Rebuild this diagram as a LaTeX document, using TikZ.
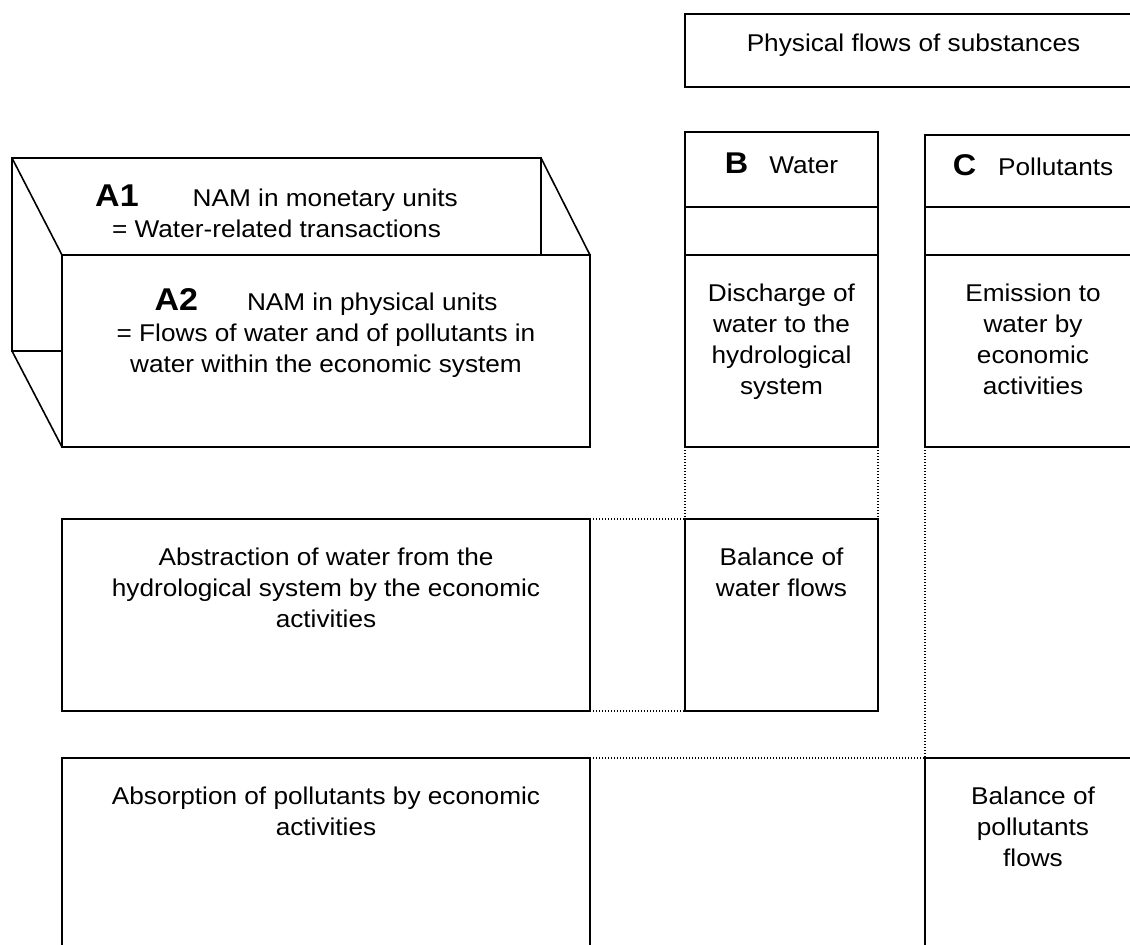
\documentclass[tikz,border=0pt]{standalone}
\usepackage{fontspec}
\setmainfont{Liberation Sans}[FakeStretch=1.08]
\newcommand\tstrut{\rule{0pt}{25pt}}
\newcommand\bigA[1]{{\fontsize{31.5}{31}\selectfont\bfseries #1}}
\newcommand\bigB[1]{{\fontsize{30}{31}\selectfont\bfseries #1}}
\begin{document}
\begin{tikzpicture}[x=1pt,y=-1pt,
  box/.style={draw, line width=1.6pt, inner sep=0pt, outer sep=0pt, anchor=north west, fill=white},
  txt/.style={font=\fontsize{24.26}{31}\selectfont, align=center, inner sep=0pt, outer sep=0pt, anchor=north},
  dotline/.style={line width=1.2pt, dash pattern=on 1.2pt off 1.8pt},
  edge3d/.style={line width=1.6pt}]
\useasboundingbox (0,0) rectangle (1130,945);
\clip (0,0) rectangle (1130,945);
\fill[white] (0,0) rectangle (1130,945);

% 3D box A1 / A2
\node[box, minimum width=529pt, minimum height=193pt] (A1) at (12,158) {};
\node[box, minimum width=528pt, minimum height=192pt] (A2) at (62,255) {};
\draw[edge3d] (A1.north west) -- (A2.north west);
\draw[edge3d] (A1.north east) -- (A2.north east);
\draw[edge3d] (A1.south west) -- (A2.south west);
\node[box, minimum width=528pt, minimum height=192pt] (A2f) at (62,255) {};
\draw[edge3d] (A1.north east) -- (A1.north east |- A2f.north);
\node[txt] (A1t) at ([yshift=-23pt]A1.north) {\tstrut\bigA{A1}\hspace{54pt}NAM in monetary units\\= Water-related transactions};
\node[txt] (A2t) at ([yshift=-30pt]A2f.north) {\tstrut\bigA{A2}\hspace{49pt}NAM in physical units\\= Flows of water and of pollutants in\\water within the economic system};

% Physical flows header
\node[box, minimum width=457pt, minimum height=73pt] (phys) at (685,14) {};
\node[txt] (physt) at ([yshift=-12pt]phys.north) {\tstrut Physical flows of substances};

% Column B
\node[box, minimum width=193pt, minimum height=75pt] (Bhead) at (685,132) {};
\node[box, minimum width=193pt, minimum height=48pt] (Bmid) at (685,207) {};
\node[box, minimum width=193pt, minimum height=192pt] (disc) at (685,255) {};
\node[txt] (Bheadt) at ([yshift=-16pt]Bhead.north) {\tstrut\bigB{B}\hspace{21pt}Water};
\node[txt] (disct) at ([yshift=-21pt]disc.north) {\tstrut Discharge of\\water to the\\hydrological\\system};

% Column C
\node[box, minimum width=216pt, minimum height=72pt] (Chead) at (925,135) {};
\node[box, minimum width=216pt, minimum height=48pt] (Cmid) at (925,207) {};
\node[box, minimum width=216pt, minimum height=192pt] (emis) at (925,255) {};
\node[txt] (Cheadt) at ([yshift=-15pt]Chead.north) {\tstrut\bigB{C}\hspace{22pt}Pollutants};
\node[txt] (emist) at ([yshift=-21pt]emis.north) {\tstrut Emission to\\water by\\economic\\activities};

% Middle row
\node[box, minimum width=528pt, minimum height=192pt] (abstr) at (62,519) {};
\node[txt] (abstrt) at ([yshift=-21pt]abstr.north) {\tstrut Abstraction of water from the\\hydrological system by the economic\\activities};
\node[box, minimum width=193pt, minimum height=192pt] (bbal) at (685,519) {};
\node[txt] (bbalt) at ([yshift=-21pt]bbal.north) {\tstrut Balance of\\water flows};

% Bottom row
\node[box, minimum width=528pt, minimum height=192pt] (absorp) at (62,758) {};
\node[txt] (absorpt) at ([yshift=-21pt]absorp.north) {\tstrut Absorption of pollutants by economic\\activities};
\node[box, minimum width=216pt, minimum height=192pt] (cbal) at (925,758) {};
\node[txt] (cbalt) at ([yshift=-21pt]cbal.north) {\tstrut Balance of\\pollutants\\flows};

% Dotted connectors
\draw[dotline] (disc.south west) -- (bbal.north west);
\draw[dotline] (disc.south east) -- (bbal.north east);
\draw[dotline] (abstr.north east) -- (bbal.north west);
\draw[dotline] (abstr.south east) -- (bbal.south west);
\draw[dotline] (emis.south west) -- (cbal.north west);
\draw[dotline] (absorp.north east) -- (cbal.north west);
\end{tikzpicture}
\end{document}
